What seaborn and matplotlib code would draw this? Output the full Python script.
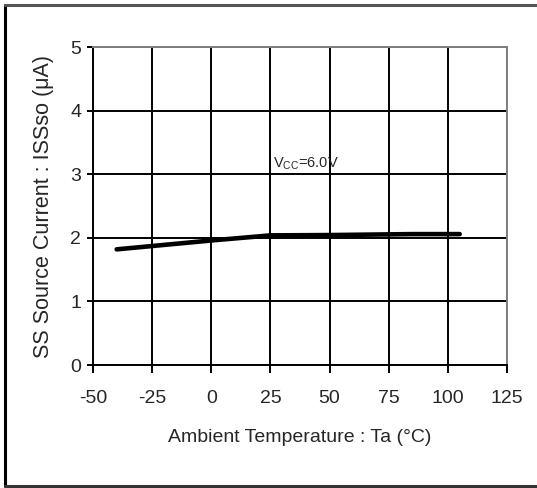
import matplotlib
matplotlib.use("Agg")
import matplotlib.pyplot as plt
import seaborn as sns
import pandas as pd
from matplotlib.lines import Line2D

# Source current vs ambient temperature
temperature = [-40, 0, 25, 50, 85, 105]
current = [1.82, 1.96, 2.04, 2.045, 2.06, 2.06]
x_ticks = [-50, -25, 0, 25, 50, 75, 100, 125]
y_ticks = [0, 1, 2, 3, 4, 5]

df = pd.DataFrame({"Ta": temperature, "ISSso": current})

sns.set_style("white")
plt.rcParams["font.family"] = ["Liberation Sans", "DejaVu Sans"]

W, H = 537, 488
fig = plt.figure(figsize=(W / 100, H / 100), dpi=100)
ax = fig.add_axes([93 / W, 1 - 365 / H, 414 / W, 317.7 / H])

sns.lineplot(data=df, x="Ta", y="ISSso", ax=ax, color="black", linewidth=3.3,
             zorder=5)

ax.set_xlim(-50, 125)
ax.set_ylim(0, 5)
ax.set_xticks(x_ticks)
ax.set_yticks(y_ticks)
ax.set_xticklabels([str(v) for v in x_ticks])
ax.set_yticklabels([str(v) for v in y_ticks])
ax.grid(True, color="black", linewidth=1.4)
ax.tick_params(axis="both", direction="out", width=1.4, color="black",
               labelsize=14, left=True, bottom=True)
ax.tick_params(axis="x", length=6, pad=12)
ax.tick_params(axis="y", length=4.5, pad=4)

for side in ["left", "bottom"]:
    ax.spines[side].set_color("black")
    ax.spines[side].set_linewidth(1.4)
for side in ["top", "right"]:
    ax.spines[side].set_color("#808080")
    ax.spines[side].set_linewidth(1.4)

ax.set_xlabel("Ambient Temperature : Ta (°C)", fontsize=14, labelpad=16)
ax.set_ylabel("SS Source Current : ISSso (μA)", fontsize=15.5, labelpad=12)

ax.text(25.9, 3.04, r"V$_{\mathregular{CC}}$=6.0V", fontsize=10.5,
        ha="left", va="bottom", zorder=6)

# Frame lines around the figure (left, top, bottom)
for xs, ys, col in [((4.5, 4.5), (4.5, 486), "black"),
                    ((4.5, W), (4.5, 4.5), "#555555"),
                    ((4.5, W), (486, 486), "#333333")]:
    fig.add_artist(Line2D([x / W for x in xs], [1 - y / H for y in ys],
                          transform=fig.transFigure, color=col,
                          linewidth=2.2))

fig.savefig("out.png", dpi=100, facecolor="white")
